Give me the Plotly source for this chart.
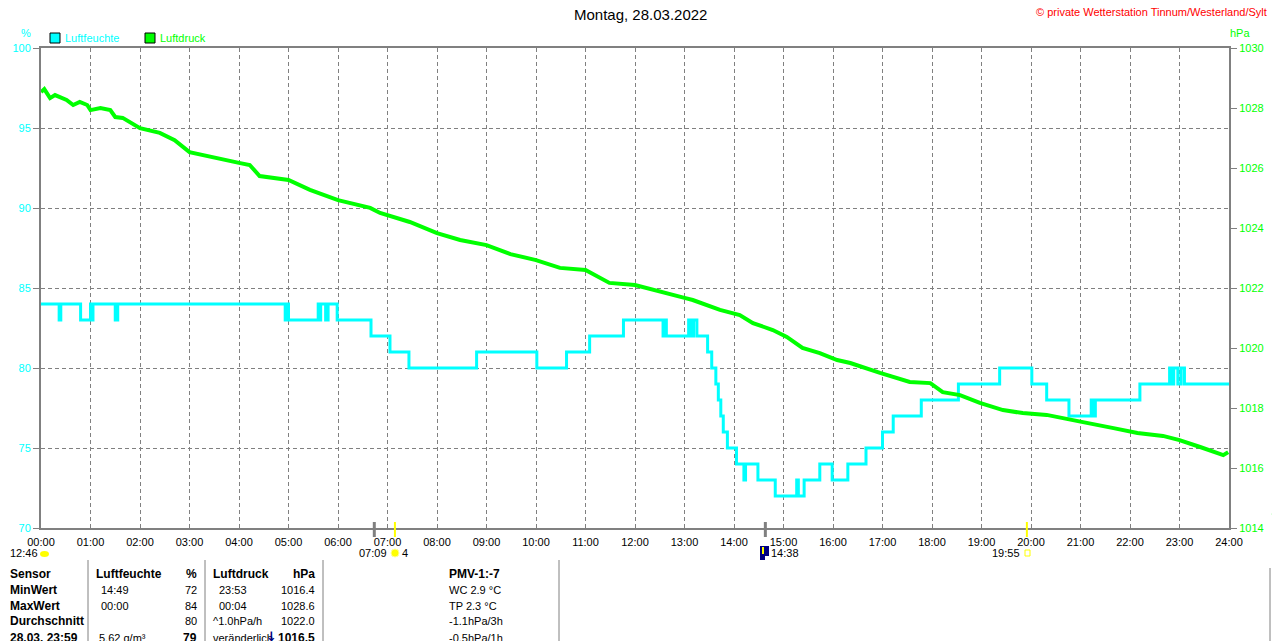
import plotly.graph_objects as go

# the page puts the figure 8 px from the top-left corner, so the figure is 8 px smaller
# and the plot area is placed at page pixels 41..1229 x 48..528
W, H = 1272, 633
L, T, R, B = 41, 48, 1229, 528
SHIFT = 8

hum_times = ["00:00", "00:22", "00:24", "00:48", "01:00", "01:01", "01:03", "01:30", "01:33",
             "04:56", "04:58", "05:00", "05:36", "05:37", "05:39", "05:45", "05:48", "05:59",
             "06:40", "07:03", "07:26", "08:48", "10:01", "10:37", "11:05", "11:46", "12:34",
             "12:36", "12:38", "13:05", "13:08", "13:11", "13:15", "13:28", "13:33", "13:38",
             "13:41", "13:44", "13:47", "13:52", "14:03", "14:12", "14:14", "14:29", "14:50",
             "15:16", "15:18", "15:25", "15:44", "15:59", "16:18", "16:40", "17:00", "17:13",
             "17:47", "18:32", "19:22", "20:01", "20:19", "20:46", "21:13", "21:15", "21:18",
             "22:12", "22:48", "22:50", "22:53", "22:58", "23:02", "23:06", "24:00"]
hum_values = [84, 83, 84, 83, 84, 83, 84, 83, 84,
              83, 84, 83, 84, 83, 84, 83, 84, 83,
              82, 81, 80, 81, 80, 81, 82, 83, 82,
              83, 82, 83, 82, 83, 82, 81, 80, 79,
              78, 77, 76, 75, 74, 73, 74, 73, 72,
              73, 72, 73, 74, 73, 74, 75, 76, 77,
              78, 79, 80, 79, 78, 77, 78, 77, 78,
              79, 80, 79, 80, 79, 80, 79, 79]

press_times = ["00:00", "00:04", "00:11", "00:17", "00:31", "00:39", "00:47", "00:56", "01:00",
               "01:12", "01:24", "01:30", "01:39", "02:00", "02:24", "02:42", "03:00", "03:31",
               "04:00", "04:13", "04:25", "05:00", "05:26", "06:00", "06:39", "06:51", "07:00",
               "07:27", "08:00", "08:28", "09:00", "09:29", "10:00", "10:29", "11:00", "11:17",
               "11:29", "12:00", "12:30", "13:00", "13:10", "13:43", "14:07", "14:23", "14:47",
               "15:04", "15:23", "15:44", "16:05", "16:21", "16:57", "17:33", "17:58", "18:13",
               "18:34", "18:58", "19:26", "19:50", "20:19", "20:47", "21:03", "21:40", "22:09",
               "22:40", "23:00", "23:25", "23:53", "23:59"]
press_values = [1028.53, 1028.63, 1028.33, 1028.43, 1028.27, 1028.10, 1028.20, 1028.10, 1027.93,
                1028.00, 1027.93, 1027.70, 1027.67, 1027.33, 1027.17, 1026.93, 1026.53, 1026.33,
                1026.17, 1026.10, 1025.73, 1025.60, 1025.27, 1024.93, 1024.67, 1024.50, 1024.43,
                1024.20, 1023.83, 1023.60, 1023.43, 1023.13, 1022.93, 1022.67, 1022.60, 1022.33,
                1022.17, 1022.10, 1021.87, 1021.67, 1021.60, 1021.27, 1021.10, 1020.83, 1020.60,
                1020.37, 1020.00, 1019.83, 1019.60, 1019.50, 1019.17, 1018.87, 1018.83, 1018.53,
                1018.43, 1018.17, 1017.93, 1017.83, 1017.77, 1017.60, 1017.53, 1017.33, 1017.17,
                1017.07, 1016.93, 1016.70, 1016.43, 1016.53]

hour_labels = [f"{h:02d}:00" for h in range(25)]

# markers on the time axis (sun / min value)
event_times = ["06:44", "07:09", "14:38", "19:55"]
event_colors = ["#808080", "#FFFF00", "#808080", "#FFFF00"]

# statistics table below the chart
table_rows = [
    ["Sensor", "Luftfeuchte", "%", "Luftdruck", "hPa", "PMV-1:-7"],
    ["MinWert", "14:49", "72", "23:53", "1016.4", "WC 2.9 °C"],
    ["MaxWert", "00:00", "84", "00:04", "1028.6", "TP 2.3 °C"],
    ["Durchschnitt", "", "80", "^1.0hPa/h", "1022.0", "-1.1hPa/3h"],
    ["28.03. 23:59", "5.62 g/m³", "79", "veränderlich", "1016.5", "-0.5hPa/1h"],
]

CYAN = "#00FFFF"
GREEN = "#00FF00"
GRAY = "#808080"
FONT = "Liberation Sans"


def to_hours(t):
    h, m = t.split(":")
    return int(h) + int(m) / 60


def px(x):
    return (x - L) / (R - L)


def py(y):
    return (B - y) / (B - T)


fig = go.Figure()
fig.add_trace(go.Scatter(
    x=[to_hours(t) for t in hum_times], y=hum_values, mode="lines",
    line=dict(color=CYAN, width=3, shape="hv"), name="Luftfeuchte", yaxis="y",
))
fig.add_trace(go.Scatter(
    x=[to_hours(t) for t in press_times], y=press_values, mode="lines",
    line=dict(color=GREEN, width=4), name="Luftdruck", yaxis="y2",
))

ann = []


def text(x, y, s, color="black", size=11, bold=False, xanchor="left", family=FONT):
    ann.append(dict(
        x=px(x), y=py(y), xref="paper", yref="paper", text=f"<b>{s}</b>" if bold else s,
        showarrow=False, xanchor=xanchor, yanchor="middle", borderpad=0,
        font=dict(family=family, size=size, color=color),
    ))


text(640, 15, "Montag, 28.03.2022", size=15, xanchor="center")
text(1268, 12, "© private Wetterstation Tinnum/Westerland/Sylt", color="#FF0000", size=11, xanchor="right")
text(26, 33, "%", color=CYAN, size=11, xanchor="center")
text(1240, 33, "hPa", color=GREEN, size=11, xanchor="center")
text(64, 38, "Luftfeuchte", color=CYAN, size=11)
text(159, 38, "Luftdruck", color=GREEN, size=11)

# labels under the time axis
text(9, 553, "12:46")
text(388, 553, "07:09", xanchor="right")
text(401, 553, "4")
text(770, 553, "14:38")
text(1021, 553, "19:55", xanchor="right")

# table
row_y = [574, 590, 606, 621, 638]
col_x = [9, 95, 198, 212, 316, 448]
col_anchor = ["left", "left", "right", "left", "right", "left"]
for r, row in enumerate(table_rows):
    for c, s in enumerate(row):
        if not s:
            continue
        x = col_x[c]
        if r in (1, 2) and c == 1:
            x = 100
        if r == 4 and c == 1:
            x = 98
        if r in (1, 2) and c == 3:
            x = 218
        bold = r == 0 or c == 0 or (r == 4 and c in (2, 4))
        text(x, row_y[r], s, size=12 if bold else 11, bold=bold, xanchor=col_anchor[c])
text(271, 636, "↓", color="#000080", size=13, bold=True, xanchor="center", family="DejaVu Sans")

shapes = []
# legend boxes
shapes.append(dict(type="rect", xref="paper", yref="paper", x0=px(50), x1=px(60), y0=py(43), y1=py(33),
                   fillcolor=CYAN, line=dict(color="black", width=1)))
shapes.append(dict(type="rect", xref="paper", yref="paper", x0=px(145), x1=px(155), y0=py(43), y1=py(33),
                   fillcolor=GREEN, line=dict(color="black", width=1)))

# event ticks on the time axis
for t, col in zip(event_times, event_colors):
    shapes.append(dict(type="line", xref="x", yref="paper", x0=to_hours(t), x1=to_hours(t),
                       y0=py(537), y1=py(522), line=dict(color=col, width=3 if col == GRAY else 2)))

# small icons
shapes.append(dict(type="circle", xref="paper", yref="paper", x0=px(40), x1=px(49), y0=py(557), y1=py(551),
                   fillcolor="#FFFF00", line=dict(color="#FFFF00", width=0)))
shapes.append(dict(type="circle", xref="paper", yref="paper", x0=px(391), x1=px(399), y0=py(557), y1=py(549),
                   fillcolor="#FFFF00", line=dict(color="#FFFF99", width=1)))
shapes.append(dict(type="rect", xref="paper", yref="paper", x0=px(760), x1=px(769), y0=py(560), y1=py(546),
                   fillcolor="#000080", line=dict(width=0)))
shapes.append(dict(type="line", xref="paper", yref="paper", x0=px(763), x1=px(763), y0=py(554), y1=py(547),
                   line=dict(color="#FFFF00", width=2)))
shapes.append(dict(type="rect", xref="paper", yref="paper", x0=px(765), x1=px(769), y0=py(560), y1=py(556),
                   fillcolor="white", line=dict(width=0)))
shapes.append(dict(type="rect", xref="paper", yref="paper", x0=px(1025), x1=px(1030), y0=py(556), y1=py(550),
                   fillcolor="rgba(0,0,0,0)", line=dict(color="#FFFF00", width=1)))

# table separators
for x in [88, 205, 323, 559]:
    shapes.append(dict(type="line", xref="paper", yref="paper", x0=px(x), x1=px(x), y0=py(560), y1=py(645),
                       line=dict(color=GRAY, width=1)))

# fragments of the neighbouring chart at the right edge
shapes.append(dict(type="line", xref="paper", yref="paper", x0=px(1272), x1=px(1281), y0=py(48), y1=py(48),
                   line=dict(color=GRAY, width=2)))
shapes.append(dict(type="line", xref="paper", yref="paper", x0=px(1272), x1=px(1281), y0=py(461), y1=py(461),
                   line=dict(color=CYAN, width=3)))
shapes.append(dict(type="path", xref="paper", yref="paper",
                   path=f"M {px(1272)},{py(513)} L {px(1277)},{py(514)} L {px(1279)},{py(520)}",
                   line=dict(color=GREEN, width=3)))
shapes.append(dict(type="line", xref="paper", yref="paper", x0=px(1270), x1=px(1270), y0=py(568), y1=py(645),
                   line=dict(color=GRAY, width=1)))
shapes.append(dict(type="line", xref="paper", yref="paper", x0=px(1272), x1=px(1277), y0=py(580), y1=py(580),
                   line=dict(color=GRAY, width=1)))

fig.update_layout(
    width=W, height=H,
    margin=dict(l=L - SHIFT, r=W - (R - SHIFT), t=T - SHIFT, b=H - (B - SHIFT), pad=0, autoexpand=False),
    paper_bgcolor="white", plot_bgcolor="white",
    showlegend=False,
    font=dict(family=FONT, size=11, color="black"),
    xaxis=dict(
        range=[0, 24], tickvals=list(range(25)), ticktext=hour_labels, automargin=False,
        showline=True, linecolor=GRAY, linewidth=2, mirror=True, ticklabelstandoff=3,
        showgrid=True, gridcolor=GRAY, gridwidth=1, griddash="4px,3px",
        ticks="", zeroline=False, tickfont=dict(size=11, color="black"),
    ),
    yaxis=dict(
        range=[70, 100], dtick=5, showline=True, linecolor=GRAY, linewidth=2, automargin=False,
        ticks="outside", ticklen=6, tickcolor=GRAY, tickwidth=1,
        showgrid=True, gridcolor=GRAY, gridwidth=1, griddash="4px,3px",
        zeroline=False, tickfont=dict(size=11, color=CYAN),
    ),
    yaxis2=dict(
        range=[1014, 1030], dtick=2, overlaying="y", side="right", automargin=False,
        showline=True, linecolor=GRAY, linewidth=2,
        ticks="outside", ticklen=6, tickcolor=GRAY, tickwidth=1,
        showgrid=False, zeroline=False, tickfont=dict(size=11, color=GREEN),
    ),
    annotations=ann,
    shapes=shapes,
)

fig.write_html("out.html")
